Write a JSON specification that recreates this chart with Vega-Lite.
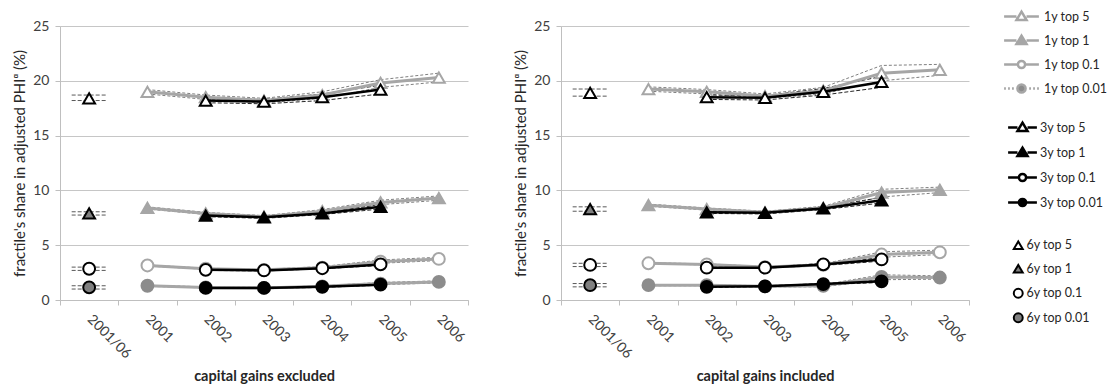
{
"$schema": "https://vega.github.io/schema/vega-lite/v6.json",
"padding": {"left": 12, "top": 3, "right": 2, "bottom": 2},
"spacing": 44,
"resolve": {"scale": {"shape": "independent", "fill": "independent", "stroke": "independent", "size": "independent"}},
"config": {
  "font": "Lato",
  "view": {"stroke": null},
  "axis": {"labelFont": "Lato", "labelFontSize": 14, "labelColor": "#404040", "titleFont": "Lato", "titleColor": "#262626", "domainColor": "#bfbfbf", "tickColor": "#bfbfbf", "gridColor": "#c6c6c6"},
  "legend": {"labelFont": "Lato", "labelFontSize": 12.5, "labelColor": "#262626", "padding": 0}
},
"data": {"values": [
{"p":"ex","g":"1y","s":"1y top 5","c":"2001","v":19.0,"lo":18.8,"hi":19.2},
{"p":"ex","g":"1y","s":"1y top 5","c":"2002","v":18.5,"lo":18.3,"hi":18.7},
{"p":"ex","g":"1y","s":"1y top 5","c":"2003","v":18.2,"lo":18.0,"hi":18.4},
{"p":"ex","g":"1y","s":"1y top 5","c":"2004","v":18.7,"lo":18.4,"hi":19.0},
{"p":"ex","g":"1y","s":"1y top 5","c":"2005","v":19.8,"lo":19.4,"hi":20.1},
{"p":"ex","g":"1y","s":"1y top 5","c":"2006","v":20.3,"lo":19.9,"hi":20.7},
{"p":"ex","g":"1y","s":"1y top 1","c":"2001","v":8.4,"lo":8.3,"hi":8.5},
{"p":"ex","g":"1y","s":"1y top 1","c":"2002","v":7.9,"lo":7.8,"hi":8.0},
{"p":"ex","g":"1y","s":"1y top 1","c":"2003","v":7.6,"lo":7.5,"hi":7.7},
{"p":"ex","g":"1y","s":"1y top 1","c":"2004","v":8.1,"lo":8.0,"hi":8.25},
{"p":"ex","g":"1y","s":"1y top 1","c":"2005","v":8.9,"lo":8.7,"hi":9.1},
{"p":"ex","g":"1y","s":"1y top 1","c":"2006","v":9.3,"lo":9.1,"hi":9.5},
{"p":"ex","g":"1y","s":"1y top 0.1","c":"2001","v":3.15,"lo":3.1,"hi":3.2},
{"p":"ex","g":"1y","s":"1y top 0.1","c":"2002","v":2.85,"lo":2.8,"hi":2.9},
{"p":"ex","g":"1y","s":"1y top 0.1","c":"2003","v":2.75,"lo":2.7,"hi":2.8},
{"p":"ex","g":"1y","s":"1y top 0.1","c":"2004","v":2.95,"lo":2.9,"hi":3.05},
{"p":"ex","g":"1y","s":"1y top 0.1","c":"2005","v":3.5,"lo":3.35,"hi":3.65},
{"p":"ex","g":"1y","s":"1y top 0.1","c":"2006","v":3.75,"lo":3.6,"hi":3.9},
{"p":"ex","g":"1y","s":"1y top 0.01","c":"2001","v":1.3,"lo":1.25,"hi":1.35},
{"p":"ex","g":"1y","s":"1y top 0.01","c":"2002","v":1.15,"lo":1.1,"hi":1.2},
{"p":"ex","g":"1y","s":"1y top 0.01","c":"2003","v":1.1,"lo":1.05,"hi":1.15},
{"p":"ex","g":"1y","s":"1y top 0.01","c":"2004","v":1.25,"lo":1.2,"hi":1.3},
{"p":"ex","g":"1y","s":"1y top 0.01","c":"2005","v":1.5,"lo":1.4,"hi":1.6},
{"p":"ex","g":"1y","s":"1y top 0.01","c":"2006","v":1.65,"lo":1.55,"hi":1.75},
{"p":"ex","g":"3y","s":"3y top 5","c":"2002","v":18.2,"lo":18.0,"hi":18.4},
{"p":"ex","g":"3y","s":"3y top 5","c":"2003","v":18.1,"lo":17.9,"hi":18.3},
{"p":"ex","g":"3y","s":"3y top 5","c":"2004","v":18.5,"lo":18.2,"hi":18.8},
{"p":"ex","g":"3y","s":"3y top 5","c":"2005","v":19.2,"lo":18.8,"hi":19.6},
{"p":"ex","g":"3y","s":"3y top 1","c":"2002","v":7.7,"lo":7.6,"hi":7.8},
{"p":"ex","g":"3y","s":"3y top 1","c":"2003","v":7.55,"lo":7.45,"hi":7.65},
{"p":"ex","g":"3y","s":"3y top 1","c":"2004","v":7.9,"lo":7.8,"hi":8.0},
{"p":"ex","g":"3y","s":"3y top 1","c":"2005","v":8.5,"lo":8.3,"hi":8.7},
{"p":"ex","g":"3y","s":"3y top 0.1","c":"2002","v":2.75,"lo":2.7,"hi":2.8},
{"p":"ex","g":"3y","s":"3y top 0.1","c":"2003","v":2.7,"lo":2.65,"hi":2.75},
{"p":"ex","g":"3y","s":"3y top 0.1","c":"2004","v":2.9,"lo":2.85,"hi":2.95},
{"p":"ex","g":"3y","s":"3y top 0.1","c":"2005","v":3.25,"lo":3.15,"hi":3.35},
{"p":"ex","g":"3y","s":"3y top 0.01","c":"2002","v":1.1,"lo":1.05,"hi":1.15},
{"p":"ex","g":"3y","s":"3y top 0.01","c":"2003","v":1.1,"lo":1.05,"hi":1.15},
{"p":"ex","g":"3y","s":"3y top 0.01","c":"2004","v":1.2,"lo":1.15,"hi":1.25},
{"p":"ex","g":"3y","s":"3y top 0.01","c":"2005","v":1.4,"lo":1.35,"hi":1.45},
{"p":"ex","g":"6y","s":"6y top 5","c":"2001/06","v":18.4,"lo":18.2,"hi":18.7},
{"p":"ex","g":"6y","s":"6y top 1","c":"2001/06","v":7.9,"lo":7.75,"hi":8.05},
{"p":"ex","g":"6y","s":"6y top 0.1","c":"2001/06","v":2.85,"lo":2.7,"hi":3.0},
{"p":"ex","g":"6y","s":"6y top 0.01","c":"2001/06","v":1.15,"lo":1.0,"hi":1.3},
{"p":"in","g":"1y","s":"1y top 5","c":"2001","v":19.25,"lo":19.05,"hi":19.45},
{"p":"in","g":"1y","s":"1y top 5","c":"2002","v":19.0,"lo":18.8,"hi":19.2},
{"p":"in","g":"1y","s":"1y top 5","c":"2003","v":18.6,"lo":18.4,"hi":18.8},
{"p":"in","g":"1y","s":"1y top 5","c":"2004","v":19.1,"lo":18.8,"hi":19.4},
{"p":"in","g":"1y","s":"1y top 5","c":"2005","v":20.7,"lo":20.0,"hi":21.4},
{"p":"in","g":"1y","s":"1y top 5","c":"2006","v":21.0,"lo":20.5,"hi":21.5},
{"p":"in","g":"1y","s":"1y top 1","c":"2001","v":8.65,"lo":8.55,"hi":8.75},
{"p":"in","g":"1y","s":"1y top 1","c":"2002","v":8.3,"lo":8.2,"hi":8.4},
{"p":"in","g":"1y","s":"1y top 1","c":"2003","v":8.0,"lo":7.9,"hi":8.1},
{"p":"in","g":"1y","s":"1y top 1","c":"2004","v":8.4,"lo":8.3,"hi":8.55},
{"p":"in","g":"1y","s":"1y top 1","c":"2005","v":9.8,"lo":9.4,"hi":10.1},
{"p":"in","g":"1y","s":"1y top 1","c":"2006","v":10.05,"lo":9.8,"hi":10.3},
{"p":"in","g":"1y","s":"1y top 0.1","c":"2001","v":3.35,"lo":3.3,"hi":3.4},
{"p":"in","g":"1y","s":"1y top 0.1","c":"2002","v":3.25,"lo":3.2,"hi":3.3},
{"p":"in","g":"1y","s":"1y top 0.1","c":"2003","v":3.0,"lo":2.95,"hi":3.05},
{"p":"in","g":"1y","s":"1y top 0.1","c":"2004","v":3.2,"lo":3.1,"hi":3.3},
{"p":"in","g":"1y","s":"1y top 0.1","c":"2005","v":4.15,"lo":3.9,"hi":4.4},
{"p":"in","g":"1y","s":"1y top 0.1","c":"2006","v":4.35,"lo":4.15,"hi":4.55},
{"p":"in","g":"1y","s":"1y top 0.01","c":"2001","v":1.35,"lo":1.3,"hi":1.4},
{"p":"in","g":"1y","s":"1y top 0.01","c":"2002","v":1.35,"lo":1.3,"hi":1.4},
{"p":"in","g":"1y","s":"1y top 0.01","c":"2003","v":1.25,"lo":1.2,"hi":1.3},
{"p":"in","g":"1y","s":"1y top 0.01","c":"2004","v":1.3,"lo":1.2,"hi":1.4},
{"p":"in","g":"1y","s":"1y top 0.01","c":"2005","v":2.1,"lo":1.85,"hi":2.3},
{"p":"in","g":"1y","s":"1y top 0.01","c":"2006","v":2.05,"lo":1.9,"hi":2.2},
{"p":"in","g":"3y","s":"3y top 5","c":"2002","v":18.5,"lo":18.3,"hi":18.7},
{"p":"in","g":"3y","s":"3y top 5","c":"2003","v":18.45,"lo":18.25,"hi":18.65},
{"p":"in","g":"3y","s":"3y top 5","c":"2004","v":19.0,"lo":18.7,"hi":19.3},
{"p":"in","g":"3y","s":"3y top 5","c":"2005","v":19.9,"lo":19.4,"hi":20.4},
{"p":"in","g":"3y","s":"3y top 1","c":"2002","v":8.0,"lo":7.9,"hi":8.1},
{"p":"in","g":"3y","s":"3y top 1","c":"2003","v":7.95,"lo":7.85,"hi":8.05},
{"p":"in","g":"3y","s":"3y top 1","c":"2004","v":8.35,"lo":8.25,"hi":8.5},
{"p":"in","g":"3y","s":"3y top 1","c":"2005","v":9.1,"lo":8.85,"hi":9.35},
{"p":"in","g":"3y","s":"3y top 0.1","c":"2002","v":2.95,"lo":2.9,"hi":3.0},
{"p":"in","g":"3y","s":"3y top 0.1","c":"2003","v":2.95,"lo":2.9,"hi":3.0},
{"p":"in","g":"3y","s":"3y top 0.1","c":"2004","v":3.25,"lo":3.15,"hi":3.35},
{"p":"in","g":"3y","s":"3y top 0.1","c":"2005","v":3.7,"lo":3.55,"hi":3.85},
{"p":"in","g":"3y","s":"3y top 0.01","c":"2002","v":1.2,"lo":1.15,"hi":1.25},
{"p":"in","g":"3y","s":"3y top 0.01","c":"2003","v":1.25,"lo":1.2,"hi":1.3},
{"p":"in","g":"3y","s":"3y top 0.01","c":"2004","v":1.45,"lo":1.4,"hi":1.5},
{"p":"in","g":"3y","s":"3y top 0.01","c":"2005","v":1.7,"lo":1.6,"hi":1.8},
{"p":"in","g":"6y","s":"6y top 5","c":"2001/06","v":18.9,"lo":18.6,"hi":19.25},
{"p":"in","g":"6y","s":"6y top 1","c":"2001/06","v":8.3,"lo":8.1,"hi":8.5},
{"p":"in","g":"6y","s":"6y top 0.1","c":"2001/06","v":3.2,"lo":3.05,"hi":3.35},
{"p":"in","g":"6y","s":"6y top 0.01","c":"2001/06","v":1.35,"lo":1.2,"hi":1.5}
]},
"hconcat": [
{
  "width": 408, "height": 274,
  "transform": [{"filter": "datum.p == 'ex'"}],
  "resolve": {"scale": {"shape": "independent", "fill": "independent", "stroke": "independent", "size": "independent"}},
  "encoding": {
    "x": {"field": "c", "type": "ordinal", "scale": {"type": "band", "domain": ["2001/06","2001","2002","2003","2004","2005","2006"], "paddingInner": 0, "paddingOuter": 0}, "axis": {"title": "capital gains excluded", "labelAngle": 45, "labelAlign": "left", "labelBaseline": "middle", "tickBand": "extent", "tickSize": 5, "labelPadding": 12, "titleFontWeight": "bold", "titleFontSize": 14.5, "titlePadding": 9, "grid": false}},
    "y": {"field": "v", "type": "quantitative", "scale": {"domain": [0, 25], "nice": false}, "axis": {"title": "fractile's share in adjusted PHIᵅ (%)", "values": [0,5,10,15,20,25], "grid": true, "tickSize": 5, "labelPadding": 6, "titleFontSize": 15, "titleFontWeight": "normal", "titlePadding": 5}}
  },
  "layer": [
    {"transform": [{"filter": "datum.g == '1y'"}, {"fold": ["lo","hi"], "as": ["k","v"]}], "mark": {"type": "line", "stroke": "#808080", "strokeWidth": 1, "strokeDash": [3,2]}, "encoding": {"detail": [{"field": "s"}, {"field": "k"}]}},
    {"transform": [{"filter": "datum.g == '3y'"}, {"fold": ["lo","hi"], "as": ["k","v"]}], "mark": {"type": "line", "stroke": "#262626", "strokeWidth": 1, "strokeDash": [4,2]}, "encoding": {"detail": [{"field": "s"}, {"field": "k"}]}},
    {"transform": [{"filter": "datum.g == '6y'"}, {"fold": ["lo","hi"], "as": ["k","v"]}], "mark": {"type": "rule", "stroke": "#595959", "strokeWidth": 1, "strokeDash": [4,2]},
     "encoding": {"x": {"field": "c", "type": "ordinal", "bandPosition": 0.2, "scale": {"type": "band", "domain": ["2001/06","2001","2002","2003","2004","2005","2006"], "paddingInner": 0, "paddingOuter": 0}}, "x2": {"field": "c", "bandPosition": 0.8}}},
    {"transform": [{"filter": "datum.g == '1y'"}], "mark": {"type": "line", "stroke": "#a6a6a6", "strokeWidth": 3}, "encoding": {"detail": {"field": "s"}}},
    {"transform": [{"filter": "datum.g == '1y'"}], "mark": {"type": "point", "filled": true, "opacity": 1, "strokeWidth": 2},
     "encoding": {
       "shape": {"field": "s", "type": "nominal", "scale": {"domain": ["1y top 5","1y top 1","1y top 0.1","1y top 0.01"], "range": ["triangle-up","triangle-up","circle","circle"]}, "legend": null},
       "fill": {"field": "s", "type": "nominal", "scale": {"domain": ["1y top 5","1y top 1","1y top 0.1","1y top 0.01"], "range": ["#ffffff","#a6a6a6","#ffffff","#8c8c8c"]}, "legend": null},
       "stroke": {"field": "s", "type": "nominal", "scale": {"domain": ["1y top 5","1y top 1","1y top 0.1","1y top 0.01"], "range": ["#a6a6a6","#a6a6a6","#a6a6a6","#8c8c8c"]}, "legend": null},
       "size": {"field": "s", "type": "ordinal", "scale": {"domain": ["1y top 5","1y top 1","1y top 0.1","1y top 0.01"], "range": [140,140,120,130]}, "legend": null}}},
    {"transform": [{"filter": "datum.g == '3y'"}], "mark": {"type": "line", "stroke": "#000000", "strokeWidth": 2.5}, "encoding": {"detail": {"field": "s"}}},
    {"transform": [{"filter": "datum.g == '3y'"}], "mark": {"type": "point", "filled": true, "opacity": 1, "strokeWidth": 2},
     "encoding": {
       "shape": {"field": "s", "type": "nominal", "scale": {"domain": ["3y top 5","3y top 1","3y top 0.1","3y top 0.01"], "range": ["triangle-up","triangle-up","circle","circle"]}, "legend": null},
       "fill": {"field": "s", "type": "nominal", "scale": {"domain": ["3y top 5","3y top 1","3y top 0.1","3y top 0.01"], "range": ["#ffffff","#000000","#ffffff","#000000"]}, "legend": null},
       "stroke": {"field": "s", "type": "nominal", "scale": {"domain": ["3y top 5","3y top 1","3y top 0.1","3y top 0.01"], "range": ["#000000","#000000","#000000","#000000"]}, "legend": null},
       "size": {"field": "s", "type": "ordinal", "scale": {"domain": ["3y top 5","3y top 1","3y top 0.1","3y top 0.01"], "range": [140,140,120,45]}, "legend": null}}},
    {"transform": [{"filter": "datum.g == '6y'"}], "mark": {"type": "point", "filled": true, "opacity": 1, "strokeWidth": 2},
     "encoding": {
       "shape": {"field": "s", "type": "nominal", "scale": {"domain": ["6y top 5","6y top 1","6y top 0.1","6y top 0.01"], "range": ["triangle-up","triangle-up","circle","circle"]}, "legend": null},
       "fill": {"field": "s", "type": "nominal", "scale": {"domain": ["6y top 5","6y top 1","6y top 0.1","6y top 0.01"], "range": ["#ffffff","#808080","#ffffff","#808080"]}, "legend": null},
       "stroke": {"field": "s", "type": "nominal", "scale": {"domain": ["6y top 5","6y top 1","6y top 0.1","6y top 0.01"], "range": ["#000000","#000000","#000000","#000000"]}, "legend": null},
       "size": {"field": "s", "type": "ordinal", "scale": {"domain": ["6y top 5","6y top 1","6y top 0.1","6y top 0.01"], "range": [140,140,130,130]}, "legend": null}}}
  ]
},
{
  "width": 408, "height": 274,
  "transform": [{"filter": "datum.p == 'in'"}],
  "resolve": {"scale": {"shape": "independent", "fill": "independent", "stroke": "independent", "size": "independent"}},
  "encoding": {
    "x": {"field": "c", "type": "ordinal", "scale": {"type": "band", "domain": ["2001/06","2001","2002","2003","2004","2005","2006"], "paddingInner": 0, "paddingOuter": 0}, "axis": {"title": "capital gains included", "labelAngle": 45, "labelAlign": "left", "labelBaseline": "middle", "tickBand": "extent", "tickSize": 5, "labelPadding": 12, "titleFontWeight": "bold", "titleFontSize": 14.5, "titlePadding": 9, "grid": false}},
    "y": {"field": "v", "type": "quantitative", "scale": {"domain": [0, 25], "nice": false}, "axis": {"title": "fractile's share in adjusted PHIᵅ (%)", "values": [0,5,10,15,20,25], "grid": true, "tickSize": 5, "labelPadding": 6, "titleFontSize": 15, "titleFontWeight": "normal", "titlePadding": 5}}
  },
  "layer": [
    {"transform": [{"filter": "datum.g == '1y'"}, {"fold": ["lo","hi"], "as": ["k","v"]}], "mark": {"type": "line", "stroke": "#808080", "strokeWidth": 1, "strokeDash": [3,2]}, "encoding": {"detail": [{"field": "s"}, {"field": "k"}]}},
    {"transform": [{"filter": "datum.g == '3y'"}, {"fold": ["lo","hi"], "as": ["k","v"]}], "mark": {"type": "line", "stroke": "#262626", "strokeWidth": 1, "strokeDash": [4,2]}, "encoding": {"detail": [{"field": "s"}, {"field": "k"}]}},
    {"transform": [{"filter": "datum.g == '6y'"}, {"fold": ["lo","hi"], "as": ["k","v"]}], "mark": {"type": "rule", "stroke": "#595959", "strokeWidth": 1, "strokeDash": [4,2]},
     "encoding": {"x": {"field": "c", "type": "ordinal", "bandPosition": 0.2, "scale": {"type": "band", "domain": ["2001/06","2001","2002","2003","2004","2005","2006"], "paddingInner": 0, "paddingOuter": 0}}, "x2": {"field": "c", "bandPosition": 0.8}}},
    {"transform": [{"filter": "datum.g == '1y'"}], "mark": {"type": "line", "stroke": "#a6a6a6", "strokeWidth": 3}, "encoding": {"detail": {"field": "s"}}},
    {"transform": [{"filter": "datum.g == '1y'"}], "mark": {"type": "point", "filled": true, "opacity": 1, "strokeWidth": 2},
     "encoding": {
       "shape": {"field": "s", "type": "nominal", "scale": {"domain": ["1y top 5","1y top 1","1y top 0.1","1y top 0.01"], "range": ["triangle-up","triangle-up","circle","circle"]}, "legend": null},
       "fill": {"field": "s", "type": "nominal", "scale": {"domain": ["1y top 5","1y top 1","1y top 0.1","1y top 0.01"], "range": ["#ffffff","#a6a6a6","#ffffff","#8c8c8c"]}, "legend": null},
       "stroke": {"field": "s", "type": "nominal", "scale": {"domain": ["1y top 5","1y top 1","1y top 0.1","1y top 0.01"], "range": ["#a6a6a6","#a6a6a6","#a6a6a6","#8c8c8c"]}, "legend": null},
       "size": {"field": "s", "type": "ordinal", "scale": {"domain": ["1y top 5","1y top 1","1y top 0.1","1y top 0.01"], "range": [140,140,120,130]}, "legend": null}}},
    {"transform": [{"filter": "datum.g == '3y'"}], "mark": {"type": "line", "stroke": "#000000", "strokeWidth": 2.5}, "encoding": {"detail": {"field": "s"}}},
    {"transform": [{"filter": "datum.g == '3y'"}], "mark": {"type": "point", "filled": true, "opacity": 1, "strokeWidth": 2},
     "encoding": {
       "shape": {"field": "s", "type": "nominal", "scale": {"domain": ["3y top 5","3y top 1","3y top 0.1","3y top 0.01"], "range": ["triangle-up","triangle-up","circle","circle"]}, "legend": null},
       "fill": {"field": "s", "type": "nominal", "scale": {"domain": ["3y top 5","3y top 1","3y top 0.1","3y top 0.01"], "range": ["#ffffff","#000000","#ffffff","#000000"]}, "legend": null},
       "stroke": {"field": "s", "type": "nominal", "scale": {"domain": ["3y top 5","3y top 1","3y top 0.1","3y top 0.01"], "range": ["#000000","#000000","#000000","#000000"]}, "legend": null},
       "size": {"field": "s", "type": "ordinal", "scale": {"domain": ["3y top 5","3y top 1","3y top 0.1","3y top 0.01"], "range": [140,140,120,45]}, "legend": null}}},
    {"transform": [{"filter": "datum.g == '6y'"}], "mark": {"type": "point", "filled": true, "opacity": 1, "strokeWidth": 2},
     "encoding": {
       "shape": {"field": "s", "type": "nominal", "scale": {"domain": ["6y top 5","6y top 1","6y top 0.1","6y top 0.01"], "range": ["triangle-up","triangle-up","circle","circle"]}, "legend": null},
       "fill": {"field": "s", "type": "nominal", "scale": {"domain": ["6y top 5","6y top 1","6y top 0.1","6y top 0.01"], "range": ["#ffffff","#808080","#ffffff","#808080"]}, "legend": null},
       "stroke": {"field": "s", "type": "nominal", "scale": {"domain": ["6y top 5","6y top 1","6y top 0.1","6y top 0.01"], "range": ["#000000","#000000","#000000","#000000"]}, "legend": null},
       "size": {"field": "s", "type": "ordinal", "scale": {"domain": ["6y top 5","6y top 1","6y top 0.1","6y top 0.01"], "range": [140,140,130,130]}, "legend": null}}},
    {"transform": [{"filter": "datum.g == 'legend'"}], "mark": {"type": "point", "filled": true, "opacity": 1},
     "encoding": {
       "shape": {"field": "s", "type": "nominal", "scale": {"domain": ["1y top 5","1y top 1","1y top 0.1","1y top 0.01"], "range": ["M-1.45,0H-0.42M0.42,0H1.45M0,-0.4L0.42,0.3L-0.42,0.3Z","M-1.45,0H-0.42M0.42,0H1.45M0,-0.4L0.42,0.3L-0.42,0.3Z","M-1.45,0H-0.34M0.34,0H1.45M0.3,0A0.3,0.3 0 1 1 -0.3,0A0.3,0.3 0 1 1 0.3,0Z","M-1.45,0H-1.3M-1.12,0H-0.97M-0.79,0H-0.64M0.64,0H0.79M0.97,0H1.12M1.3,0H1.45M0.34,0A0.34,0.34 0 1 1 -0.34,0A0.34,0.34 0 1 1 0.34,0Z"]}, "legend": {"orient": "none", "legendX": 447, "legendY": -23, "title": null, "symbolSize": 576, "symbolStrokeWidth": 2.5, "labelOffset": 9, "rowPadding": 1}},
       "fill": {"field": "s", "type": "nominal", "scale": {"domain": ["1y top 5","1y top 1","1y top 0.1","1y top 0.01"], "range": ["#ffffff","#a6a6a6","#ffffff","#8c8c8c"]}, "legend": {"orient": "none", "legendX": 447, "legendY": -23, "title": null, "symbolSize": 576, "symbolStrokeWidth": 2.5, "labelOffset": 9, "rowPadding": 1}},
       "stroke": {"field": "s", "type": "nominal", "scale": {"domain": ["1y top 5","1y top 1","1y top 0.1","1y top 0.01"], "range": ["#a6a6a6","#a6a6a6","#a6a6a6","#a6a6a6"]}, "legend": {"orient": "none", "legendX": 447, "legendY": -23, "title": null, "symbolSize": 576, "symbolStrokeWidth": 2.5, "labelOffset": 9, "rowPadding": 1}}}},
    {"transform": [{"filter": "datum.g == 'legend'"}], "mark": {"type": "point", "filled": true, "opacity": 1},
     "encoding": {
       "shape": {"field": "s", "type": "nominal", "scale": {"domain": ["3y top 5","3y top 1","3y top 0.1","3y top 0.01"], "range": ["M-1.2,0H-0.42M0.42,0H1.2M0,-0.4L0.42,0.3L-0.42,0.3Z","M-1.2,0H-0.42M0.42,0H1.2M0,-0.4L0.42,0.3L-0.42,0.3Z","M-1.2,0H-0.34M0.34,0H1.2M0.3,0A0.3,0.3 0 1 1 -0.3,0A0.3,0.3 0 1 1 0.3,0Z","M-1.2,0H-0.3M0.3,0H1.2M0.3,0A0.3,0.3 0 1 1 -0.3,0A0.3,0.3 0 1 1 0.3,0Z"]}, "legend": {"orient": "none", "legendX": 448, "legendY": 88, "title": null, "symbolSize": 576, "symbolStrokeWidth": 2.5, "labelOffset": 4, "rowPadding": 2}},
       "fill": {"field": "s", "type": "nominal", "scale": {"domain": ["3y top 5","3y top 1","3y top 0.1","3y top 0.01"], "range": ["#ffffff","#000000","#ffffff","#000000"]}, "legend": {"orient": "none", "legendX": 448, "legendY": 88, "title": null, "symbolSize": 576, "symbolStrokeWidth": 2.5, "labelOffset": 4, "rowPadding": 2}},
       "stroke": {"field": "s", "type": "nominal", "scale": {"domain": ["3y top 5","3y top 1","3y top 0.1","3y top 0.01"], "range": ["#000000","#000000","#000000","#000000"]}, "legend": {"orient": "none", "legendX": 448, "legendY": 88, "title": null, "symbolSize": 576, "symbolStrokeWidth": 2.5, "labelOffset": 4, "rowPadding": 2}}}},
    {"transform": [{"filter": "datum.g == 'legend'"}], "mark": {"type": "point", "filled": true, "opacity": 1},
     "encoding": {
       "shape": {"field": "s", "type": "nominal", "scale": {"domain": ["6y top 5","6y top 1","6y top 0.1","6y top 0.01"], "range": ["triangle-up","triangle-up","circle","circle"]}, "legend": {"orient": "none", "legendX": 451, "legendY": 213, "title": null, "symbolSize": 80, "symbolStrokeWidth": 2, "labelOffset": 2, "rowPadding": 6.5}},
       "fill": {"field": "s", "type": "nominal", "scale": {"domain": ["6y top 5","6y top 1","6y top 0.1","6y top 0.01"], "range": ["#ffffff","#808080","#ffffff","#808080"]}, "legend": {"orient": "none", "legendX": 451, "legendY": 213, "title": null, "symbolSize": 80, "symbolStrokeWidth": 2, "labelOffset": 2, "rowPadding": 6.5}},
       "stroke": {"field": "s", "type": "nominal", "scale": {"domain": ["6y top 5","6y top 1","6y top 0.1","6y top 0.01"], "range": ["#000000","#000000","#000000","#000000"]}, "legend": {"orient": "none", "legendX": 451, "legendY": 213, "title": null, "symbolSize": 80, "symbolStrokeWidth": 2, "labelOffset": 2, "rowPadding": 6.5}}}}
  ]
}
]
}
